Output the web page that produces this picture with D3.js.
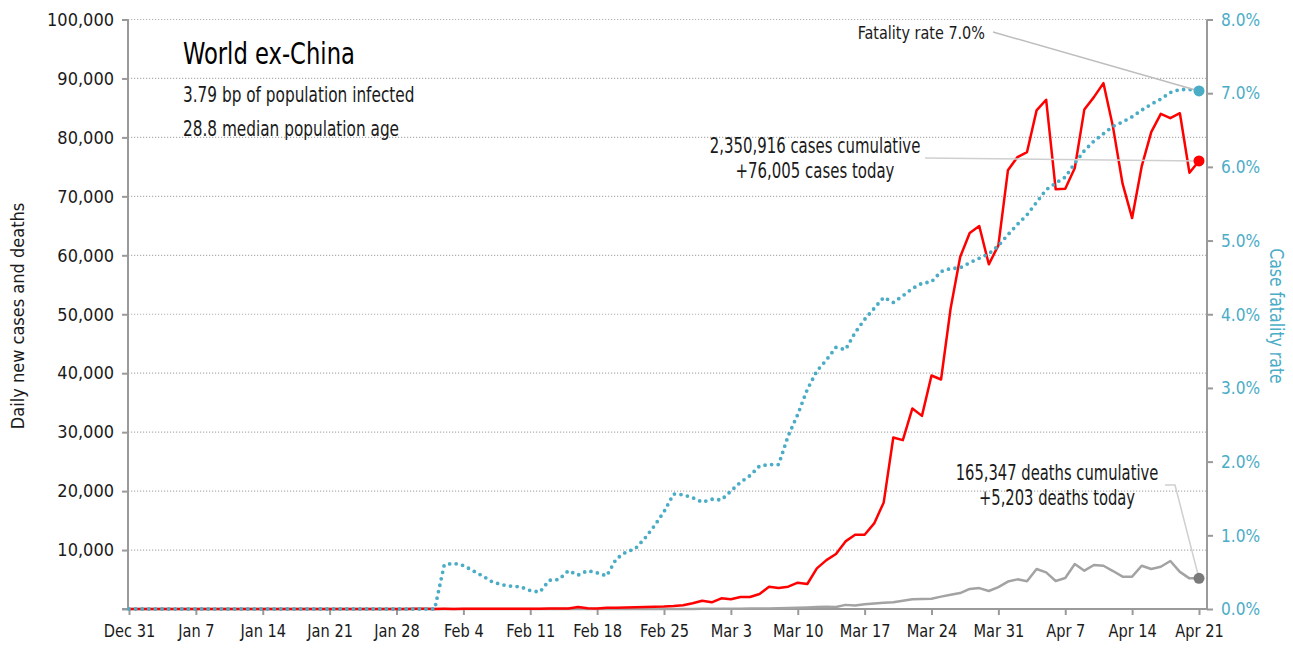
<!doctype html>
<html>
<head>
<meta charset="UTF-8">
<script src="https://cdn.jsdelivr.net/npm/d3@7"></script>
<style>
  body { margin: 0; background: #fff; }
  text { font-family: "Liberation Sans Narrow", "DejaVu Sans Condensed", "Arial Narrow", sans-serif; }
</style>
</head>
<body>
<script>

// daily values, Dec 31 2019 .. Apr 21 2020 (one per day)
var startDate = new Date(2019, 11, 31)

var cases = [
  0,0,0,0,0,0,0,0,0,0, 0,0,0,1,0,1,0,1,0,1,
  2,4,6,8,10,12,15,20,16,20, 25,30,20,30,20,40,50,40,60,60,
  40,50,40,30,80,100,70,350,120,80, 200,200,250,300,330,380,420,500,630,970,
  1400,1130,1810,1640,2030,2030,2540,3780,3560,3780, 4460,4240,6900,8300,9320,11470,12600,12600,14520,18080,
  29100,28640,34020,32760,39610,38930,50970,59710,63780,64970, 58470,61690,74410,76660,77510,84580,86390,71190,71300,74800,
  84750,86830,89200,81750,72150,66320,75080,80900,84000,83270, 84100,74000,76005
]

var deaths = [
  0,0,0,0,0,0,0,0,0,0, 0,0,0,0,0,0,0,0,0,0,
  0,0,0,0,0,0,0,0,0,0, 0,0,0,1,0,0,0,0,0,0,
  0,0,0,1,1,2,0,1,2,1, 3,4,6,8,9,12,14,18,14,20,
  25,30,40,50,60,70,90,100,130,170, 220,270,320,380,350,700,580,800,950,1050,
  1150,1400,1650,1700,1750,2100,2400,2700,3400,3550, 3050,3700,4650,5030,4720,6780,6220,4750,5250,7630,
  6500,7460,7340,6440,5480,5480,7340,6780,7170,8140, 6300,5200,5203
]

// case fatality rate, %
var rate = [
  0,0,0,0,0,0,0,0,0,0, 0,0,0,0,0,0,0,0,0,0,
  0,0,0,0,0,0,0,0,0,0, 0,0,0,0.60,0.62,0.59,0.52,0.45,0.37,0.33,
  0.31,0.30,0.25,0.23,0.39,0.40,0.52,0.46,0.52,0.49, 0.45,0.68,0.77,0.82,0.96,1.13,1.32,1.56,1.55,1.51,
  1.45,1.49,1.48,1.60,1.72,1.81,1.94,1.96,1.96,2.35, 2.64,2.98,3.23,3.38,3.55,3.52,3.75,3.93,4.08,4.23,
  4.16,4.25,4.35,4.42,4.44,4.58,4.62,4.63,4.70,4.76, 4.82,4.93,5.08,5.22,5.35,5.52,5.69,5.78,5.86,6.05,
  6.22,6.35,6.45,6.55,6.61,6.68,6.77,6.85,6.92,7.01, 7.05,7.05,7.03
]

var leftTicks = [0,10000,20000,30000,40000,50000,60000,70000,80000,90000,100000]
var rightTicks = [0,1,2,3,4,5,6,7,8]
var dateTicks = ['Dec 31','Jan 7','Jan 14','Jan 21','Jan 28','Feb 4','Feb 11','Feb 18','Feb 25','Mar 3','Mar 10','Mar 17','Mar 24','Mar 31','Apr 7','Apr 14','Apr 21']

var title = 'World ex-China'
var subtitles = ['3.79 bp of population infected', '28.8 median population age']
var casesNote = ['2,350,916 cases cumulative', '+76,005 cases today']
var deathsNote = ['165,347 deaths cumulative', '+5,203 deaths today']
var rateNote = 'Fatality rate 7.0%'

width = 1293
height = 649
left = 128
right = 1207
top_ = 19.5
bottom = 609

red = '#ff0000'
blue = '#4bacc6'
grey = '#a3a3a3'
axisGrey = '#9a9a9a'

dates = cases.map((d, i) => d3.timeDay.offset(startDate, i))
data = dates.map((d, i) => ({date: d, cases: cases[i], deaths: deaths[i], rate: rate[i]}))

// squeeze text horizontally, the original uses a condensed face
condense = function(sel, f){
  sel.each(function(){
    var w = this.getComputedTextLength()
    d3.select(this).attr('textLength', w * f).attr('lengthAdjust', 'spacingAndGlyphs')
  })
}

svg = d3.select('body').append('svg')
  .attr('width', width)
  .attr('height', height)

x = d3.scaleTime()
  .domain([startDate, d3.timeDay.offset(startDate, 112)])
  .range([129, 1199])

y = d3.scaleLinear().domain([0, 100000]).range([bottom, top_])
y2 = d3.scaleLinear().domain([0, 8]).range([bottom, top_])

// dotted gridlines
svg.append('g').selectAll('line')
  .data(leftTicks.slice(1))
  .enter().append('line')
  .attr('x1', left).attr('x2', right)
  .attr('y1', d => y(d)).attr('y2', d => y(d))
  .style('stroke', '#b0b0b0')
  .style('stroke-width', 1.2)
  .style('stroke-dasharray', '1.2,1.8')

// left axis
yAxis = d3.axisLeft(y).tickValues(leftTicks).tickSize(6).tickPadding(8)
  .tickFormat(d => d == 0 ? '' : d3.format(',')(d))
gl = svg.append('g').attr('transform', 'translate(' + left + ',0)').call(yAxis)

// right axis
y2Axis = d3.axisRight(y2).tickValues(rightTicks).tickSize(6).tickPadding(8)
  .tickFormat(d => d.toFixed(1) + '%')
gr = svg.append('g').attr('transform', 'translate(' + right + ',0)').call(y2Axis)

// bottom axis
tickDates = dateTicks.map((d, i) => d3.timeDay.offset(startDate, i * 7))
xAxis = d3.axisBottom(x).tickValues(tickDates).tickSize(6).tickPadding(9)
  .tickFormat((d, i) => dateTicks[i])
gb = svg.append('g').attr('transform', 'translate(0,' + bottom + ')').call(xAxis)

;[gl, gr, gb].forEach(g => {
  g.select('.domain').remove()
  g.selectAll('line').style('stroke', axisGrey).style('stroke-width', 2)
  g.selectAll('text').style('font-size', '18px').style('fill', '#1a1a1a')
})
gr.selectAll('text').style('fill', blue)
condense(gb.selectAll('text'), 0.9)
condense(gr.selectAll('text'), 0.95)

svg.append('line').attr('x1', left).attr('x2', left).attr('y1', top_).attr('y2', bottom)
  .style('stroke', axisGrey).style('stroke-width', 2)
svg.append('line').attr('x1', right).attr('x2', right).attr('y1', top_).attr('y2', bottom)
  .style('stroke', axisGrey).style('stroke-width', 2)
svg.append('line').attr('x1', left - 6).attr('x2', right).attr('y1', bottom).attr('y2', bottom)
  .style('stroke', axisGrey).style('stroke-width', 2)

// axis titles
svg.append('text')
  .text('Daily new cases and deaths')
  .style('font-size', '18px')
  .style('fill', '#1a1a1a')
  .attr('text-anchor', 'middle')
  .attr('transform', 'translate(24,' + 316 + ')rotate(-90)')

svg.append('text')
  .text('Case fatality rate')
  .style('font-size', '19px')
  .style('fill', blue)
  .attr('text-anchor', 'middle')
  .attr('transform', 'translate(1270,' + 316 + ')rotate(90)')
  .call(condense, 0.92)

// lines
lineDeaths = d3.line().x(d => x(d.date)).y(d => y(d.deaths))
lineCases = d3.line().x(d => x(d.date)).y(d => y(d.cases))
lineRate = d3.line().x(d => x(d.date)).y(d => y2(d.rate))

svg.append('path').datum(data)
  .attr('d', lineDeaths)
  .style('fill', 'none').style('stroke', grey).style('stroke-width', 2.5)
  .style('stroke-linejoin', 'round')

svg.append('path').datum(data)
  .attr('d', lineCases)
  .style('fill', 'none').style('stroke', red).style('stroke-width', 2.5)
  .style('stroke-linejoin', 'round')

svg.append('path').datum(data)
  .attr('d', lineRate)
  .style('fill', 'none').style('stroke', blue).style('stroke-width', 3.8)
  .style('stroke-linecap', 'round')
  .style('stroke-dasharray', '0,6.6')

last = data[data.length - 1]

// leader lines
svg.append('polyline')
  .attr('points', [[993, 32], [x(last.date), y2(last.rate)]].join(' '))
  .style('fill', 'none').style('stroke', '#bdbdbd').style('stroke-width', 1.5)
svg.append('polyline')
  .attr('points', [[925, 158], [x(last.date), y(last.cases)]].join(' '))
  .style('fill', 'none').style('stroke', '#cfcfcf').style('stroke-width', 1.5)
svg.append('polyline')
  .attr('points', [[1165, 485], [1175, 485], [x(last.date), y(last.deaths)]].join(' '))
  .style('fill', 'none').style('stroke', '#cfcfcf').style('stroke-width', 1.5)

// end dots
svg.append('circle').attr('cx', x(last.date)).attr('cy', y2(last.rate)).attr('r', 5.5).style('fill', blue)
svg.append('circle').attr('cx', x(last.date)).attr('cy', y(last.cases)).attr('r', 5.5).style('fill', red)
svg.append('circle').attr('cx', x(last.date)).attr('cy', y(last.deaths)).attr('r', 5.5).style('fill', '#7a7a7a')

// title block
svg.append('text').text(title)
  .attr('x', 183).attr('y', 64)
  .style('font-size', '30px').style('fill', '#000')
  .call(condense, 0.84)

svg.selectAll('.sub')
  .data(subtitles)
  .enter().append('text')
  .text(d => d)
  .attr('x', 183).attr('y', (d, i) => 102 + i * 34)
  .style('font-size', '20.5px').style('fill', '#1a1a1a')
  .call(condense, 0.83)

// annotations
svg.append('text').text(rateNote)
  .attr('x', 985).attr('y', 39)
  .attr('text-anchor', 'end')
  .style('font-size', '18px').style('fill', '#1a1a1a')
  .call(condense, 0.89)

svg.selectAll('.cnote')
  .data(casesNote)
  .enter().append('text')
  .text(d => d)
  .attr('x', 815).attr('y', (d, i) => 153 + i * 25)
  .attr('text-anchor', 'middle')
  .style('font-size', '20.5px').style('fill', '#1a1a1a')
  .call(condense, 0.81)

svg.selectAll('.dnote')
  .data(deathsNote)
  .enter().append('text')
  .text(d => d)
  .attr('x', 1057).attr('y', (d, i) => 480 + i * 25)
  .attr('text-anchor', 'middle')
  .style('font-size', '20.5px').style('fill', '#1a1a1a')
  .call(condense, 0.8)

</script>
</body>
</html>
